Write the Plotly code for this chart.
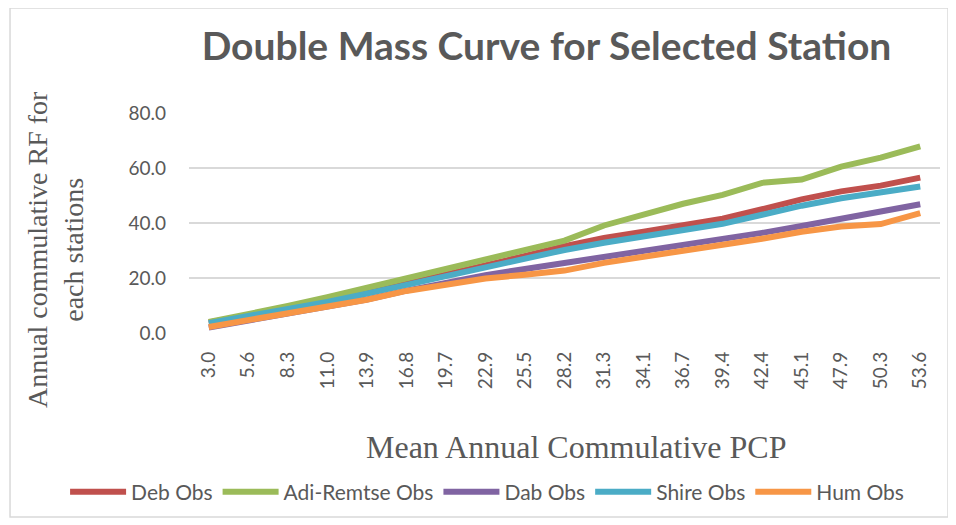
import plotly.graph_objects as go

categories = ["3.0", "5.6", "8.3", "11.0", "13.9", "16.8", "19.7", "22.9", "25.5", "28.2",
              "31.3", "34.1", "36.7", "39.4", "42.4", "45.1", "47.9", "50.3", "53.6"]

deb_obs = [3.8, 6.3, 8.8, 11.5, 14.6, 17.9, 21.0, 24.4, 28.0, 31.6,
           34.6, 36.8, 39.0, 41.6, 45.0, 48.6, 51.5, 53.6, 56.5]
adi_remtse_obs = [4.0, 6.8, 9.8, 13.0, 16.5, 20.0, 23.6, 27.0, 30.3, 33.6,
                  39.1, 43.2, 47.0, 50.2, 54.6, 55.8, 60.5, 63.8, 67.9]
dab_obs = [2.0, 4.5, 6.8, 9.4, 12.2, 15.4, 18.3, 21.0, 23.3, 25.4,
           28.0, 30.0, 31.8, 33.8, 36.4, 38.9, 41.5, 44.0, 46.8]
shire_obs = [3.6, 6.1, 8.5, 11.3, 14.3, 17.5, 21.0, 24.3, 27.2, 30.2,
             32.8, 35.2, 37.4, 39.7, 43.0, 46.3, 49.0, 51.0, 53.3]
hum_obs = [2.2, 4.6, 6.8, 9.5, 12.1, 15.3, 17.6, 19.8, 21.2, 22.7,
           25.5, 27.6, 29.6, 31.8, 34.3, 36.8, 38.7, 39.6, 43.6]

series = [
    ("Deb Obs", deb_obs, "#C0504D"),
    ("Adi-Remtse Obs", adi_remtse_obs, "#9BBB59"),
    ("Dab Obs", dab_obs, "#8064A2"),
    ("Shire Obs", shire_obs, "#4BACC6"),
    ("Hum Obs", hum_obs, "#F79646"),
]

fig = go.Figure()
for name, vals, color in series:
    fig.add_trace(go.Scatter(
        x=categories, y=vals, name=name, mode="lines",
        line=dict(color=color, width=6),
    ))

grey = "#595959"
sans = "Lato, 'Open Sans', sans-serif"
serif = "'Liberation Serif', 'Times New Roman', serif"

fig.update_layout(
    width=948, height=517,
    margin=dict(l=181, r=16, t=105, b=192),
    paper_bgcolor="white", plot_bgcolor="white",
    showlegend=True,
    title=dict(text="<b>Double Mass Curve for Selected Station</b>",
               font=dict(family=sans, size=39, color=grey),
               x=538.5 / 948, xanchor="center", y=1 - 38 / 517, yanchor="middle",
               xref="container", yref="container"),
    xaxis=dict(type="category", tickangle=-90, showgrid=False,
               tickfont=dict(family=sans, size=19, color=grey),
               showline=False, zeroline=False, ticks="", ticklabelstandoff=14,
               range=[-0.5, 18.5]),
    yaxis=dict(range=[0, 80], dtick=20, tickformat=".1f",
               showgrid=True, gridcolor="#D9D9D9", gridwidth=1.5,
               tickfont=dict(family=sans, size=19, color=grey),
               zeroline=False, showline=False, ticks="", ticklabelstandoff=22),
    legend=dict(orientation="h", x=-0.165, xanchor="left", xref="paper",
                y=-0.723, yanchor="middle", yref="paper",
                font=dict(family=sans, size=21, color=grey),
                itemwidth=56, tracegroupgap=0),
    shapes=[dict(type="rect", xref="paper", yref="paper",
                 x0=-0.2383, x1=1.0107, y0=-0.836, y1=1.477,
                 line=dict(color="#D9D9D9", width=1.5), layer="below")],
    annotations=[
        dict(text="Annual commulative RF for<br>each stations", textangle=-90,
             xref="paper", yref="paper", x=-0.1784, y=0.377, showarrow=False,
             xanchor="center", yanchor="middle",
             font=dict(family=serif, size=28, color=grey), align="center"),
        dict(text="Mean Annual Commulative PCP",
             xref="paper", yref="paper", x=0.515, y=-0.518, showarrow=False,
             xanchor="center", yanchor="middle",
             font=dict(family=serif, size=32, color=grey)),
    ],
)

fig.write_html("out.html")
